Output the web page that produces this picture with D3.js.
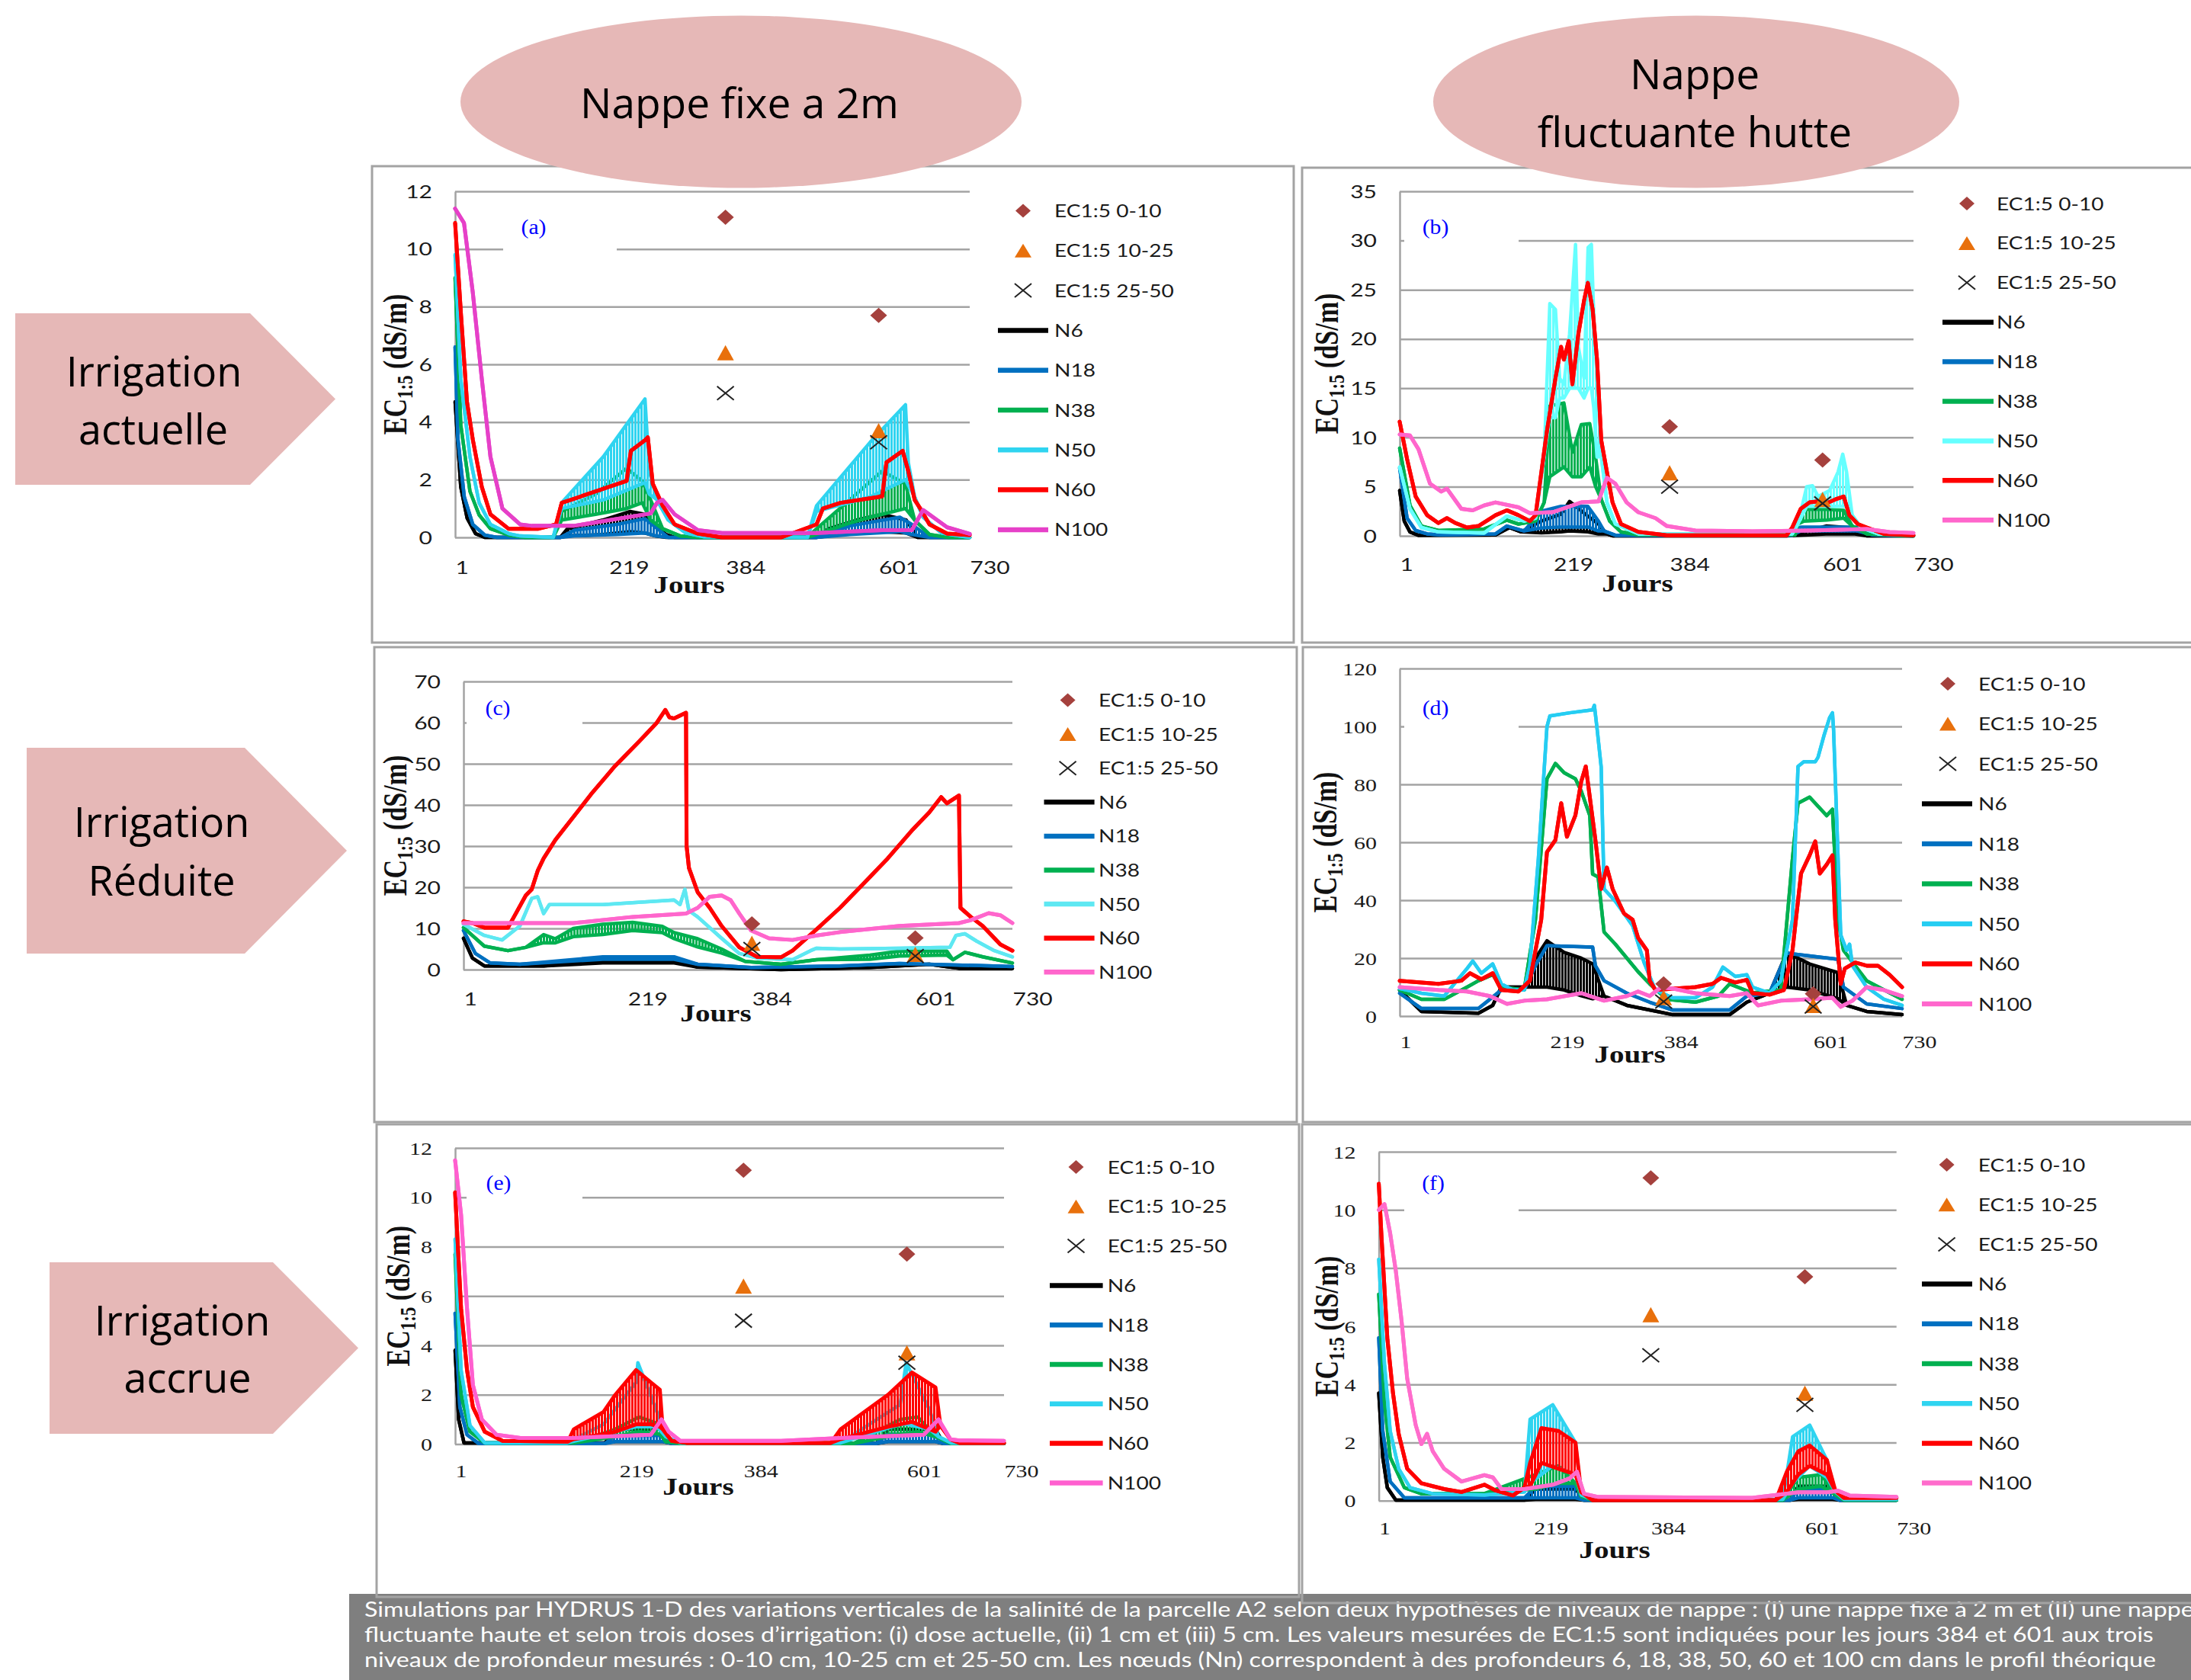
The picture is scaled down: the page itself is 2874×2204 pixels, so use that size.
<!DOCTYPE html>
<html><head><meta charset="utf-8">
<script src="https://cdn.jsdelivr.net/npm/d3@7"></script>
<style>body{margin:0;background:#fff}svg{display:block}</style>
</head><body>
<script>
// ---------------- DATA ----------------
const xTickDays = [1, 219, 384, 601, 730];
const seriesNames = ["N6", "N18", "N38", "N50", "N60", "N100"];
const measuredNames = ["EC1:5 0-10", "EC1:5 10-25", "EC1:5 25-50"];
const measuredDays = [384, 601];
const ec0_10 = [11.1, 7.7];
const ec10_25 = [6.4, 3.7];
const ec25_50 = [5.0, 3.3];
const yTicks12 = [0, 2, 4, 6, 8, 10, 12];
const yTicks35 = [0, 5, 10, 15, 20, 25, 30, 35];
const yTicks70 = [0, 10, 20, 30, 40, 50, 60, 70];
const yTicks120 = [0, 20, 40, 60, 80, 100, 120];

// each point: [day, value] or [day, low, high] (oscillating band)
// (a) Nappe fixe, irrigation actuelle
const a_N6 = [[1,4.7],[9,1.75],[18,0.67],[30,0.13],[43,0],[150,0],[160,0.05,0.3],[210,0.1,0.6],[249,0.2,0.9],[270,0.15,0.8],[285,0.05,0.4],[300,0,0.1],[312,0],[513,0],[530,0.05,0.3],[570,0.15,0.6],[606,0.2,0.8],[640,0.15,0.6],[656,0],[730,0]];
const a_N18 = [[1,6.6],[5,3.4],[14,1.4],[26,0.45],[43,0.08],[60,0],[150,0],[170,0.05,0.25],[230,0.1,0.45],[270,0.15,0.65],[285,0.05,0.35],[303,0],[513,0],[560,0.1,0.4],[631,0.2,0.7],[648,0.1,0.45],[673,0],[730,0]];
const a_N38 = [[1,9],[9,3.9],[22,1.6],[35,0.78],[51,0.3],[77,0.08],[100,0],[140,0],[152,0.6,0.9],[200,0.8,1.5],[244,1.0,2.4],[266,1.2,1.95],[278,0.6,1.3],[295,0.3],[320,0.05],[345,0],[500,0],[513,0.1,0.3],[560,0.5,1.3],[606,0.8,2.3],[639,1.0,1.85],[652,0.6],[673,0.1],[700,0],[730,0]];
const a_N50 = [[1,9.8],[9,5.5],[22,2.8],[35,1.2],[51,0.45],[77,0.13],[93,0.05],[140,0],[152,1.0,1.2],[211,1.3,2.8],[270,1.9,4.8],[276,1.5,2.3],[287,1.3],[303,0.6],[328,0.15],[354,0.02],[500,0],[513,0.9,1.1],[589,1.4,3.3],[639,2.0,4.6],[643,1.8,2.6],[652,1.4],[664,0.7],[690,0.15],[715,0.05],[730,0]];
const a_N60 = [[1,10.9],[9.4,7.7],[17.8,4.7],[26,3.4],[38.8,1.75],[51,0.8],[76.6,0.3],[119,0.3],[144,0.45],[152,1.2],[164.6,1.3],[244,1.96],[250,3.0],[270,3.37],[274,3.47],[281,1.86],[295,1.1],[312,0.45],[345,0.13],[379,0],[463,0],[513,0.45],[522,1.0],[547,1.2],[606,1.42],[612,2.6],[635,3.0],[643,2.3],[652,1.3],[660,1.0],[673,0.45],[698,0.13],[730,0.08]];
const a_N100 = [[1,11.4],[13.6,10.9],[26,8.5],[38.8,5.5],[51,2.8],[68,1.0],[93,0.45],[110,0.4],[169,0.4],[278,0.83],[287,1.2],[295,1.3],[312,0.8],[345,0.25],[379,0.15],[513,0.15],[606,0.25],[648,0.25],[664,0.95],[698,0.35],[730,0.12]];

// (b) Nappe fluctuante, irrigation actuelle
const b_N6 = [[1,4.6],[7.5,1.5],[15.6,0.4],[28,0.05],[137,0.1],[157,0.85],[173.5,0.4],[202,0.3,1.5],[230,0.4,2.2],[242,0.5,3.5],[268,0.4,2.0],[283,0.2,1.2],[295,0.2],[303,0],[550,0],[580,0.1,0.5],[606,0.2,1.0],[647,0.2,0.8],[664,0],[730,0]];
const b_N18 = [[1,6.9],[11.5,1.8],[23.7,0.54],[40,0.2],[60,0.1],[137,0.2],[153,1.0],[177.6,0.5],[202,0.8,2.5],[230,0.9,3.0],[268,0.9,3.0],[283,0.5,1.5],[291,0.5],[307,0.06],[558,0.06],[570,0.5,0.9],[650,0.5,0.9],[672,0.1],[730,0]];
const b_N38 = [[1,8.9],[15.6,3.1],[31.8,1.0],[56,0.54],[121,0.7],[153,1.6],[169.5,1.2],[193.8,1.5],[206,3.4],[214,6,13.2],[234,7,13.5],[246,6,8.5],[258.6,6,11.3],[270.7,7,11.4],[279,5,8],[287,3.7],[299,1.5],[315,0.4],[340,0.1],[562,0.1],[566,1.2],[574.5,1.5,2.7],[607,1.6,2.7],[631,1.8,2.6],[643,1.0],[664,0.2],[730,0]];
const b_N50 = [[1,7],[15.6,2.75],[31.8,0.85],[56,0.4],[121,0.3],[153,2.0],[177.6,1.5],[193.8,1.8],[206,8.1],[214,12,23.6],[222,12,23],[228,14,16],[234,14,15.4],[242,15,20.5],[250.5,15,29.6],[254.5,15,19.2],[262.6,14,16],[268.3,15,29.3],[273,15,29.6],[276.4,13,22.3],[281,8,16],[287,8.1],[295,3.4],[307,1.2],[340,0.2],[558,0.2],[566,1.2],[578.5,3,5.0],[586.6,3,5.1],[594.7,3,4.0],[611,3,4.6],[623,3,6.5],[629.6,3,8.3],[635,3,6.5],[643,2.1],[655.5,0.85],[680,0.2],[730,0.1]];
const b_N60 = [[1,11.6],[11.5,7.8],[23.7,4.0],[40,2.1],[56,1.3],[68,1.8],[80,1.3],[96.6,0.85],[112.8,1.0],[137,2.1],[153,2.6],[169.5,2.1],[185.7,1.5],[193.8,2.1],[210,10.7],[222,16],[230,19.2],[234,17.9],[240.8,19.8],[246,15.4],[254.5,20.5],[262.6,23.9],[268,25.7],[274.8,23],[281,17.9],[287,9.7],[295,6.5],[303,3.4],[315,1.2],[339.6,0.4],[380,0.06],[550,0.06],[558,0.85],[570,2.75],[582.6,3.4],[594.7,3.5],[602.8,3.2],[619,3.7],[631,4.0],[639,2.1],[651,1.2],[663.6,0.85],[688,0.2],[730,0.06]];
const b_N100 = [[1,10.3],[15.6,10.2],[27.7,8.8],[44,5.3],[60,4.5],[68,4.8],[88.5,2.75],[104.7,2.6],[121,3.1],[137,3.4],[169.5,2.9],[185.7,2.3],[218,2.4],[258.6,3.4],[283,3.5],[295,5.9],[307,5.3],[323,3.4],[339.6,2.4],[364,1.8],[380,1.0],[420.6,0.54],[501.6,0.47],[582.6,0.54],[663.6,0.7],[696,0.38],[730,0.3]];

// (c) Nappe fixe, irrigation reduite
const c_N6 = [[1,7.6],[12.8,2.8],[28.6,0.9],[107.4,0.9],[186,1.6,2.3],[280.7,1.6,2.3],[312,0.6],[422.6,0],[540.8,0.5],[619.6,1.3],[659,0.3],[730,0.3]];
const c_N18 = [[1,9.5],[16.8,3.9],[36.5,1.6],[75.9,1.3],[186,2.5,3.1],[280.7,2.5,3.1],[312,1.3],[383,0.5],[501,0.9],[580,1.5],[730,0.75]];
const c_N38 = [[1,10.2],[28.6,5.7],[60,4.6],[83.7,5.4],[107.4,6.5,8.5],[123,6.5,7.5],[146.8,8,10],[186,8.5,11],[225.6,9.5,11.5],[265,9,10.5],[280.7,7.5,9],[312,5.5,7.5],[343.8,4,5],[375,2.0],[422.6,1.3],[470,2.4],[540.8,2.5,3.5],[580,3.3,4.5],[643,3.5,4.5],[651,2.4],[666.9,4.2],[690.5,3.1],[730,1.6]];
const c_N50 = [[1,11],[28.6,8.3],[52.2,7.2],[75.9,10.6],[91.6,17.3],[99.5,17.7],[107.4,13.6],[115,15.8],[186,15.8],[280.7,16.9],[288.6,15.8],[295,19.5],[300.4,14.3],[312,12.8],[343.8,7.6],[367.4,3.9],[391,2.8],[438,2.4],[462,4.6],[470,5.2],[501,5.0],[580,5.2],[647,5.4],[655,8.3],[666.9,8.7],[682.6,6.9],[706,4.6],[730,3.1]];
const c_N60 = [[1,11.7],[12.8,11.3],[28.6,10.2],[60,10.2],[68,12.8],[83.7,18],[91.6,19.5],[99.5,24],[107.4,27],[123,31.5],[154.7,38.9],[170.4,42.6],[202,49.4],[233.5,55.3],[257,59.8],[269,63.1],[274.4,61.3],[280.7,61],[296.5,62.4],[297.3,30],[300.4,24.7],[312,18.8],[328,15],[343.8,10.6],[367.4,5.4],[391,3.1],[422.6,3.0],[438,4.6],[470,9.8],[501,15],[533,21],[564.4,27],[596,33.7],[619.6,38.2],[635.4,41.9],[643,40.4],[659,42.3],[661,15],[674.7,12.8],[690.5,10.6],[714,6.1],[730,4.6]];
const c_N100 = [[1,11.3],[146.8,11.3],[225.6,12.8],[296.5,13.6],[312,15],[328,17.7],[343.8,18],[355.6,16.9],[367.4,13.6],[383,9.5],[406.8,7.6],[438,7.2],[470,8.3],[501,9.1],[580,10.6],[659,11.3],[674.7,12],[698.4,13.7],[714,13.2],[730,11.3]];

// (d) Nappe fluctuante, irrigation reduite
const d_N6 = [[1,9],[32.5,1.6],[115.3,1.0],[136,3.7],[148.5,10],[181.6,10],[198,10,20],[214.7,10,26],[239.6,9,22],[264.4,7,20],[281,6,18],[297.6,6.9],[330.7,3.7],[363.8,2.1],[397,0.5],[479.8,0.5],[504.7,4.8],[537.8,7.9],[562.7,10,22],[595.8,9,18],[637,6,15],[649.6,3.7],[678.6,1.6],[730,0.5]];
const d_N18 = [[1,7.9],[32.5,2.6],[115.3,2.6],[131.9,5.8],[148.5,9],[181.6,9],[198,17.4],[214.7,24.3],[281,23.8],[285,17.4],[297.6,12.2],[330.7,7.9],[363.8,4.8],[397,2.1],[479.8,2.1],[504.7,6.9],[537.8,7.9],[562.7,21.7],[637,19.6],[645,10],[678.6,4.2],[730,2.6]];
const d_N38 = [[1,9],[32.5,5.8],[65.6,5.8],[98.7,10],[115.3,12.2],[136,14.3],[148.5,10],[181.6,9],[198,33.3],[214.7,81.9],[227,87.2],[239.6,84],[256,81.9],[264.4,77.7],[276.9,69.2],[281,49],[289,48],[297.6,29],[314,24.8],[347,15.3],[363.8,11.1],[388.7,5.8],[430,4.8],[463.5,6.9],[479.8,11.1],[513,8],[554,9],[571,54.5],[579,73.5],[595.8,75.6],[620.6,69.2],[629,71.4],[637,33.3],[645,22.7],[678.6,12.2],[730,5.8]];
const d_N50 = [[1,9.5],[32.5,7.9],[65.6,6.9],[98.7,16.4],[107,19],[119.5,14.8],[136,18],[148.5,11.1],[165,9],[181.6,9],[189.9,17.4],[202.3,54.5],[214.7,99.9],[218.9,103.6],[247.9,104.7],[281,105.7],[283.5,107.3],[287.6,98.9],[293.4,86],[297.6,43.9],[314,39.6],[326.6,35.4],[339,31.2],[355.6,18.5],[372,9],[397,6.3],[430,6.3],[455,10],[470,16.9],[488,13.7],[504.7,14.3],[513,10],[537.8,7.9],[554,12.2],[571,33.3],[579,86.2],[587.5,87.8],[604,87.8],[608,89.3],[616.5,96.7],[624.8,103],[629,104.7],[630.6,98.9],[635.6,65],[641,28],[649.6,22.7],[653.8,24.8],[658,17.4],[678.6,10],[703.5,5.8],[730,3.7]];
const d_N60 = [[1,12.2],[57.3,11.1],[90.5,12.2],[102.9,14.8],[119.5,12.7],[136,14.8],[148.5,9],[173.3,8.5],[189.9,12.2],[206.4,33.3],[214.7,56.6],[227,60.8],[235.4,73.5],[243.7,61.9],[256,69.3],[264.4,80.9],[271,86.2],[276.9,75.6],[285,60.8],[293.4,43.9],[301.7,51.3],[310,43.9],[326.6,35.4],[339,33.3],[347,27],[359.7,22.7],[363.8,12.2],[372,9],[430,10],[455,11.1],[467.4,13.2],[488,11.6],[504.7,12.5],[513,7.9],[537.8,7.4],[558.5,9],[571,22.7],[583.4,49.2],[595.8,55.5],[604,60.3],[610.7,49.2],[620.6,52.3],[629,55.5],[633,33.3],[641,11.1],[646.9,16.4],[662,18.5],[678.6,17.4],[695,17.4],[711.8,14.3],[730,10]];
const d_N100 = [[1,10],[57.3,9],[98.7,8.5],[131.9,6.9],[156.7,4.2],[181.6,5.3],[214.7,5.8],[264.4,7.9],[297.6,5.3],[330.7,6.9],[347,8.5],[363.8,6.9],[380.4,10],[397,9.5],[430,7.9],[479.8,6.9],[504.7,7.9],[521,3.7],[554,5.3],[595.8,5.8],[629,6.3],[641,3.2],[658,5.3],[678.6,10],[703.5,9],[730,6.9]];

// (e) Nappe fixe, irrigation accrue
const e_N6 = [[1,3.8],[5.7,1.0],[12.8,0.05],[200,0.05],[213.8,0.1,0.6],[276.8,0.1,0.6],[290,0.02],[560,0.02],[576,0.1,0.6],[639,0.1,0.6],[650,0.02],[730,0.02]];
const e_N18 = [[1,5.3],[7.3,1.5],[16.8,0.38],[32.5,0.02],[200,0.02],[213.8,0.1,0.35],[276.8,0.1,0.35],[290,0.02],[560,0.02],[576,0.1,0.4],[639,0.1,0.4],[650,0.02],[730,0.02]];
const e_N38 = [[1,7.7],[8.9,2.0],[20.7,0.5],[40.4,0.05],[160,0.05],[213.8,0.3,0.6],[245,0.5,1.1],[272.9,0.4,0.8],[280.7,0.1],[300,0.02],[530,0.02],[592,0.4,1.0],[615.6,0.5,1.1],[639,0.3],[660,0.02],[730,0.02]];
const e_N50 = [[1,8.3],[8.9,3.0],[20.7,0.75],[40.4,0.05],[150,0.05],[198,0.4,0.8],[241.3,0.7,2.5],[243.7,0.7,3.3],[269,0.7,1.3],[280.7,0.3],[300,0.05],[513,0.05],[592,0.8,1.6],[600,0.8,3.3],[631,0.6,1.4],[643,0.3],[660,0.05],[730,0.05]];
const e_N60 = [[1,10.2],[8.9,5.5],[16.8,3.0],[24.6,1.5],[40.4,0.5],[64,0.13],[150.7,0.1],[158.6,0.2,0.6],[198,0.4,1.3],[213.8,0.5,2.0],[241.3,0.8,3.0],[261,0.8,2.5],[272.9,0.7,2.2],[276.8,0.6],[288.6,0.13],[308,0.05],[500,0.05],[513,0.2,0.6],[576,0.7,2.0],[607.8,0.9,2.9],[639,0.5,2.3],[645.6,0.75],[658.9,0.19],[670.8,0.05],[730,0.05]];
const e_N100 = [[1,11.5],[8.9,9.3],[16.8,5.5],[24.6,2.4],[36.5,1.0],[56,0.38],[87.7,0.25],[158.6,0.25],[261,0.38],[275,1.0],[284.7,0.5],[300,0.13],[434,0.13],[513,0.25],[623.5,0.38],[643,1.0],[658.9,0.19],[670.8,0.15],[730,0.13]];

// (f) Nappe fluctuante, irrigation accrue
const f_N6 = [[1,3.7],[6.6,1.5],[13,0.45],[25,0.02],[206,0.02],[222,0.05,0.4],[278,0.05,0.4],[290,0.02],[580,0.02],[591.7,0.05,0.5],[640,0.05,0.5],[650,0.02],[730,0.02]];
const f_N18 = [[1,5.6],[6.6,2.4],[17,0.66],[37,0.1],[206,0.1],[222,0.1,0.5],[278,0.1,0.5],[290,0.02],[580,0.02],[591.7,0.1,0.4],[640,0.1,0.4],[650,0.02],[730,0.02]];
const f_N38 = [[1,7.1],[9,3.4],[17,1.5],[37,0.45],[61,0.24],[149.7,0.25],[222,0.4,0.9],[254,0.6,1.2],[278,0.6],[286,0.15],[302,0.02],[570,0.02],[591.7,0.4,0.8],[623.9,0.5,0.9],[644,0.2],[656,0.02],[730,0.02]];
const f_N50 = [[1,8.3],[9,4.7],[17,2.4],[29,1.1],[45,0.45],[77,0.24],[150,0.2],[206,0.3],[214,0.6,2.8],[246,1.2,3.3],[278,0.9,2.0],[286,0.2],[302,0.05],[570,0.05],[583.7,0.6,2.2],[607.8,1.2,2.6],[632,0.8,1.4],[644,0.3],[656,0.05],[730,0.05]];
const f_N60 = [[1,10.9],[5,9.0],[13,5.6],[21,3.7],[29,2.3],[41,1.1],[61,0.6],[77,0.5],[93,0.4],[117.5,0.3],[149.7,0.55],[165.8,0.35],[189.9,0.18],[206,0.45],[214,0.5,1.3],[230,1.3,2.5],[254,1.1,2.4],[278,0.9,2.0],[286,0.3],[302,0.02],[560,0.02],[575.6,0.3,1.0],[591.7,0.9,1.7],[607.8,1.2,1.9],[632,0.9,1.4],[644,0.34],[656,0.1],[730,0.1]];
const f_N100 = [[1,10],[9,10.2],[17,9.2],[25,7.9],[33,6.2],[41,4.2],[53,2.6],[61,1.95],[69,2.3],[77,1.7],[93,1.1],[117.5,0.66],[133.6,0.77],[149.7,0.88],[161.7,0.8],[173.8,0.4],[206,0.4],[246,0.55],[270,0.77],[280,1.0],[290,0.24],[310,0.13],[527,0.1],[591.7,0.29],[632,0.29],[648,0.34],[664,0.18],[730,0.13]];

const colLabels = ["Nappe fixe a 2m", "Nappe fluctuante hutte"];
const captionLines = [
  "Simulations par HYDRUS 1-D des variations verticales de la salinité de la parcelle A2 selon deux hypothèses de niveaux de nappe : (I) une nappe fixe à  2 m et (II) une nappe",
  "fluctuante haute et selon trois doses d’irrigation: (i) dose actuelle, (ii) 1 cm et (iii) 5 cm. Les valeurs mesurées de EC1:5 sont indiquées pour les jours 384 et 601 aux trois",
  "niveaux de profondeur mesurés : 0-10 cm, 10-25 cm et 25-50 cm. Les nœuds (Nn) correspondent à des profondeurs 6, 18, 38, 50, 60 et 100 cm dans le profil théorique"
];

// ---------------- LAYOUT ----------------
const W = 2874, H = 2204;
const SANS = "Lato, 'Open Sans', sans-serif";
const SERIF = "'Liberation Serif', 'Times New Roman', serif";
const BIG = "'Open Sans', Lato, sans-serif";
const svg = d3.select("body").append("svg").attr("width", W).attr("height", H);
svg.append("rect").attr("width", W).attr("height", H).attr("fill", "#fff");
const defs = svg.append("defs");

function stretch(sel, f) {
  sel.each(function () {
    const L = this.getComputedTextLength();
    if (L > 0) d3.select(this).attr("textLength", L * f).attr("lengthAdjust", "spacingAndGlyphs");
  });
}

// fine striped fill = the fast daily oscillation of a band series
let patId = 0;
function stripes(color) {
  const id = "st" + (patId++);
  const p = defs.append("pattern").attr("id", id).attr("patternUnits", "userSpaceOnUse").attr("width", 4).attr("height", 8);
  p.append("rect").attr("width", 3).attr("height", 8).attr("fill", color);
  return `url(#${id})`;
}

const panels = [
  {letter:"(a)", data:[a_N6,a_N18,a_N38,a_N50,a_N60,a_N100], yMax:12, yTicks:yTicks12, box:[488,218,1697,843], plot:[597,251,1272,705], serif:false, cyan:"#2fd4f0", pink:"#e640c8", lpos:[700,298], gap:[660,809], ylabX:519, jours:[904,767], xTickBase:48, leg:{mx:1342,tx:1383,y0:276.5,dy:52.3,l0:1309,l1:1375}},
  {letter:"(b)", data:[b_N6,b_N18,b_N38,b_N50,b_N60,b_N100], yMax:35, yTicks:yTicks35, box:[1708,220,2900,843], plot:[1836,251,2510,703], serif:false, cyan:"#66ffff", pink:"#ff66cc", lpos:[1883,298], gap:[1842,1992], ylabX:1741, jours:[2148,765], xTickBase:46, leg:{mx:2580,tx:2619,y0:267,dy:51.9,l0:2548,l1:2615}},
  {letter:"(c)", data:[c_N6,c_N18,c_N38,c_N50,c_N60,c_N100], yMax:70, yTicks:yTicks70, box:[491,849,1701,1472], plot:[608,894,1328,1272], serif:false, cyan:"#5ee8f2", pink:"#ff66cc", lpos:[653,929], gap:[612,764], ylabX:519, jours:[939,1329], xTickBase:47, leg:{mx:1400.6,tx:1441,y0:918.5,dy:44.6,l0:1369.5,l1:1435.6}},
  {letter:"(d)", data:[d_N6,d_N18,d_N38,d_N50,d_N60,d_N100], yMax:120, yTicks:yTicks120, box:[1709,849,2900,1472], plot:[1836,877,2495,1333], serif:true, cyan:"#25cdf2", pink:"#ff66cc", lpos:[1883,929], gap:[1842,1992], ylabX:1739, jours:[2138,1383], xTickBase:42, leg:{mx:2555,tx:2595,y0:897,dy:52.5,l0:2521,l1:2587}},
  {letter:"(e)", data:[e_N6,e_N18,e_N38,e_N50,e_N60,e_N100], yMax:12, yTicks:yTicks12, box:[494,1475,1704,2095], plot:[597,1506,1317,1894.5], serif:true, cyan:"#2fd4f0", pink:"#ff5fcf", lpos:[654,1552], gap:[612,764], ylabX:523, jours:[916,1950], xTickBase:43.5, leg:{mx:1411.5,tx:1452.7,y0:1531,dy:51.8,l0:1377,l1:1446.6}},
  {letter:"(f)", data:[f_N6,f_N18,f_N38,f_N50,f_N60,f_N100], yMax:12, yTicks:yTicks12, box:[1708,1475,2900,2103], plot:[1808.6,1511,2487.7,1968.8], serif:true, cyan:"#2fd4f0", pink:"#ff6ccc", lpos:[1880,1552], gap:[1842,1992], ylabX:1741, jours:[2118,2033], xTickBase:44, leg:{mx:2553.6,tx:2594.7,y0:1528,dy:52.2,l0:2521,l1:2587}}
];

const diamond = (w, h) => `M0,${-h}L${w},0L0,${h}L${-w},0Z`;
const triangle = (w, h) => `M0,${-h}L${w},${h}L${-w},${h}Z`;
const cross = (w, h) => `M${-w},${-h}L${w},${h}M${-w},${h}L${w},${-h}`;

// caption first (panel outlines overlap it)
const cap = svg.append("g");
cap.append("rect").attr("x", 458).attr("y", 2091).attr("width", W - 458).attr("height", H - 2091).attr("fill", "#7f7f7f");
const capTexts = cap.selectAll("text").data(captionLines).join("text")
  .attr("x", 478).attr("y", (d, i) => 2121 + i * 33)
  .attr("font-family", SANS).attr("font-size", 26).attr("fill", "#fff").text(d => d);
{
  const L3 = capTexts.nodes()[2].getComputedTextLength();
  stretch(capTexts, 2350 / L3);
}

function drawPanel(p) {
  const [bx0, by0, bx1, by1] = p.box;
  const [px0, py0, px1, py1] = p.plot;
  const g = svg.append("g");
  g.append("rect").attr("x", bx0).attr("y", by0).attr("width", bx1 - bx0).attr("height", by1 - by0)
    .attr("fill", "none").attr("stroke", "#a3a3a3").attr("stroke-width", 3);
  const x = d3.scaleLinear().domain([1, 730]).range([px0, px1]);
  const y = d3.scaleLinear().domain([0, p.yMax]).range([py1, py0]);
  const tf = p.serif ? SERIF : SANS;

  // y axis + gridlines
  const ya = g.append("g").attr("transform", `translate(${px0},0)`)
    .call(d3.axisLeft(y).tickValues(p.yTicks).tickSize(-(px1 - px0)).tickSizeOuter(0).tickPadding(30).tickFormat(d3.format("d")));
  ya.select(".domain").attr("stroke", "#a3a3a3").attr("stroke-width", 2.5);
  ya.selectAll(".tick line").attr("stroke", "#a3a3a3").attr("stroke-width", 2.5);
  ya.selectAll(".tick text").attr("font-family", tf).attr("font-size", 24).attr("fill", "#1a1a1a").attr("dy", "0.34em");
  stretch(ya.selectAll(".tick text"), 1.25);

  // x axis labels
  const xa = g.append("g").attr("transform", `translate(0,${py1})`)
    .call(d3.axisBottom(x).tickValues(xTickDays).tickSize(0).tickPadding(0).tickFormat(d3.format("d")));
  xa.select(".domain").remove();
  xa.selectAll(".tick text").attr("text-anchor", "start").attr("dy", null).attr("y", p.xTickBase)
    .attr("font-family", tf).attr("font-size", 24).attr("fill", "#1a1a1a");
  stretch(xa.selectAll(".tick text"), 1.25);

  // white label box over the gridline
  const gv = p.yTicks[p.yTicks.length - 2];
  g.append("rect").attr("x", p.gap[0]).attr("y", p.lpos[1] - 28).attr("width", p.gap[1] - p.gap[0])
    .attr("height", y(gv) + 8 - (p.lpos[1] - 28)).attr("fill", "#fff");
  const lt = g.append("text").attr("x", p.lpos[0]).attr("y", p.lpos[1] + 9).attr("text-anchor", "middle")
    .attr("font-family", SERIF).attr("font-size", 27).attr("fill", "#0000ff").text(p.letter);
  stretch(lt, 1.1);

  const colors = ["#000000", "#0070c0", "#00b050", p.cyan, "#ff0000", p.pink];
  const area = d3.area().x(d => x(d[0])).y0(d => y(d[1])).y1(d => y(d.length > 2 ? d[2] : d[1]));
  const lineHi = d3.line().x(d => x(d[0])).y(d => y(d.length > 2 ? d[2] : d[1]));
  const lineLo = d3.line().x(d => x(d[0])).y(d => y(d[1]));
  p.data.forEach((s, i) => {
    const sw = i >= 4 ? 5 : 4.5;
    g.append("path").datum(s).attr("d", area).attr("fill", stripes(colors[i])).attr("stroke", "none");
    g.append("path").datum(s).attr("d", lineLo).attr("fill", "none").attr("stroke", colors[i])
      .attr("stroke-width", sw).attr("stroke-linejoin", "round").attr("stroke-linecap", "round");
    g.append("path").datum(s).attr("d", lineHi).attr("fill", "none").attr("stroke", colors[i])
      .attr("stroke-width", sw).attr("stroke-linejoin", "round").attr("stroke-linecap", "round");
  });

  // measured points
  const mg = g.append("g");
  measuredDays.forEach((dd, k) => {
    mg.append("path").attr("d", diamond(11, 10)).attr("fill", "#a5413d").attr("transform", `translate(${x(dd)},${y(ec0_10[k])})`);
    mg.append("path").attr("d", triangle(11, 10)).attr("fill", "#e8700c").attr("transform", `translate(${x(dd)},${y(ec10_25[k])})`);
    mg.append("path").attr("d", cross(11, 9)).attr("fill", "none").attr("stroke", "#222").attr("stroke-width", 2).attr("transform", `translate(${x(dd)},${y(ec25_50[k])})`);
  });

  // legend
  const L = p.leg;
  const lg = g.append("g");
  const labels = measuredNames.concat(seriesNames);
  labels.forEach((name, i) => {
    const ry = L.y0 + i * L.dy;
    if (i === 0) lg.append("path").attr("d", diamond(10, 9)).attr("fill", "#a5413d").attr("transform", `translate(${L.mx},${ry})`);
    else if (i === 1) lg.append("path").attr("d", triangle(11, 9)).attr("fill", "#e8700c").attr("transform", `translate(${L.mx},${ry})`);
    else if (i === 2) lg.append("path").attr("d", cross(11, 9)).attr("fill", "none").attr("stroke", "#222").attr("stroke-width", 2).attr("transform", `translate(${L.mx},${ry})`);
    else lg.append("line").attr("x1", L.l0).attr("x2", L.l1).attr("y1", ry).attr("y2", ry).attr("stroke", colors[i - 3]).attr("stroke-width", 6.5);
    const t = lg.append("text").attr("x", L.tx).attr("y", ry + 8.5).attr("font-family", SANS).attr("font-size", 23)
      .attr("fill", "#1a1a1a").text(name);
    stretch(t, 1.22);
  });

  // Jours
  const jt = g.append("text").attr("x", p.jours[0]).attr("y", p.jours[1] + 11).attr("text-anchor", "middle")
    .attr("font-family", SERIF).attr("font-weight", "bold").attr("font-size", 32).attr("fill", "#111").text("Jours");
  stretch(jt, 1.22);

  // y label
  const cy = (py0 + py1) / 2;
  const yl = g.append("text").attr("transform", `translate(${p.ylabX},${cy}) rotate(-90) scale(1,1.3)`)
    .attr("text-anchor", "middle").attr("y", 11)
    .attr("font-family", SERIF).attr("font-weight", "bold").attr("font-size", 34).attr("fill", "#111");
  yl.append("tspan").text("EC");
  yl.append("tspan").attr("font-size", 23).attr("dy", 6).text("1:5");
  yl.append("tspan").attr("dy", -6).text(" (dS/m)");
}
panels.forEach(drawPanel);

// row chevrons
const chevrons = [
  {l:20, t:411, b:636, r:328, tip:440, lines:["Irrigation","actuelle"], cx:[202,201], by:[507,583]},
  {l:35, t:981, b:1251, r:321, tip:455, lines:["Irrigation","Réduite"], cx:[212,212], by:[1098,1175]},
  {l:65, t:1656, b:1881, r:358, tip:470, lines:["Irrigation","accrue"], cx:[239,246], by:[1752,1827]}
];
chevrons.forEach(c => {
  const g = svg.append("g");
  const m = (c.t + c.b) / 2;
  g.append("path").attr("d", `M${c.l},${c.t}L${c.r},${c.t}L${c.tip},${m}L${c.r},${c.b}L${c.l},${c.b}Z`).attr("fill", "#e6b8b7");
  c.lines.forEach((s, j) => g.append("text").attr("x", c.cx[j]).attr("y", c.by[j]).attr("text-anchor", "middle")
    .attr("font-family", BIG).attr("font-size", 54).attr("fill", "#000").text(s));
});

// column ellipses
const ell = [
  {cx:972, cy:133.5, rx:368, ry:113, lines:[colLabels[0]], by:[155]},
  {cx:2225, cy:133.5, rx:345, ry:113, lines:["Nappe","fluctuante hutte"], by:[117,193]}
];
ell.forEach(e => {
  svg.append("ellipse").attr("cx", e.cx).attr("cy", e.cy).attr("rx", e.rx).attr("ry", e.ry).attr("fill", "#e6b8b7");
  e.lines.forEach((s, j) => svg.append("text").attr("x", e.cx - 2).attr("y", e.by[j]).attr("text-anchor", "middle")
    .attr("font-family", BIG).attr("font-size", 55).attr("fill", "#000").text(s));
});
</script>
</body></html>
